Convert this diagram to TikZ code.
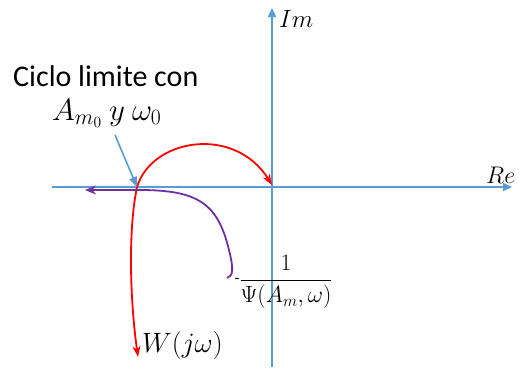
\RequirePackage{fix-cm}
\documentclass[tikz,border=0pt]{standalone}
\usepackage{fontspec}
\setmainfont{Carlito}
\usetikzlibrary{arrows.meta}
\definecolor{axisblue}{RGB}{91,155,213}
\definecolor{curvered}{RGB}{255,0,0}
\definecolor{curvepurple}{RGB}{112,48,160}
\tikzset{
  axisline/.style={draw=axisblue, line width=1.8pt, -{Triangle[length=9pt,width=8pt]}},
  redcurve/.style={draw=curvered, line width=1.8pt, {Stealth[length=11pt,width=8pt]}-{Stealth[length=11pt,width=8pt]}},
  purplecurve/.style={draw=curvepurple, line width=1.8pt, {Stealth[length=11pt,width=9pt]}-},
  pointer/.style={draw=axisblue, line width=1.6pt, -{Triangle[length=10pt,width=8pt]}},
  lbl/.style={inner sep=0pt, text=black}
}
\begin{document}
\begin{tikzpicture}[x=1pt,y=-1pt]
\useasboundingbox (0,0) rectangle (519,367);
% axes
\coordinate (xl) at (52,187);
\coordinate (xr) at (512,187);
\coordinate (yb) at (272,367);
\coordinate (yt) at (272,8);
\draw[axisline] (xl) -- (xr);
\draw[axisline] (yb) -- (yt);
\node[lbl, anchor=base west] (im) at (279,27) {\fontsize{25}{30}\selectfont $Im$};
\node[lbl, anchor=base west] (re) at (486,183) {\fontsize{24}{28}\selectfont $Re$};
% curves
\coordinate (cross) at (137,187);
\coordinate (rstart) at (138,357);
\coordinate (origin) at (272,185);
\draw[redcurve] (rstart) .. controls (130,300) and (128,230) .. (cross)
  .. controls (152,138) and (235,125) .. (origin);
\coordinate (ptip) at (85,190);
\coordinate (pa) at (140,190);
\coordinate (pend) at (227,278);
\draw[purplecurve] (ptip) -- (pa) .. controls (200,190) and (218,205) .. (229,250)
  .. controls (234,270) and (233,276) .. (pend);
% labels
\node[lbl, anchor=base west] (ciclo) at (13,86) {\fontsize{30}{34}\selectfont Ciclo limite con};
\node[lbl, anchor=base west] (amp) at (52,120) {\fontsize{31}{34}\selectfont $A_{m_0}\ y\ \omega_0$};
\coordinate (ptail) at (115,135);
\draw[pointer] (ptail) -- (cross);
\node[lbl, anchor=base west] (w) at (142,352) {\fontsize{28}{32}\selectfont $W(j\omega)$};
\node[lbl] (minus) at (237,281) {\fontsize{16}{18}\selectfont -};
\node[lbl] (frac) at (286,282) {\fontsize{23.5}{26}\selectfont $\displaystyle\frac{\,1\,}{\Psi(A_m,\omega)}$};
\end{tikzpicture}
\end{document}
